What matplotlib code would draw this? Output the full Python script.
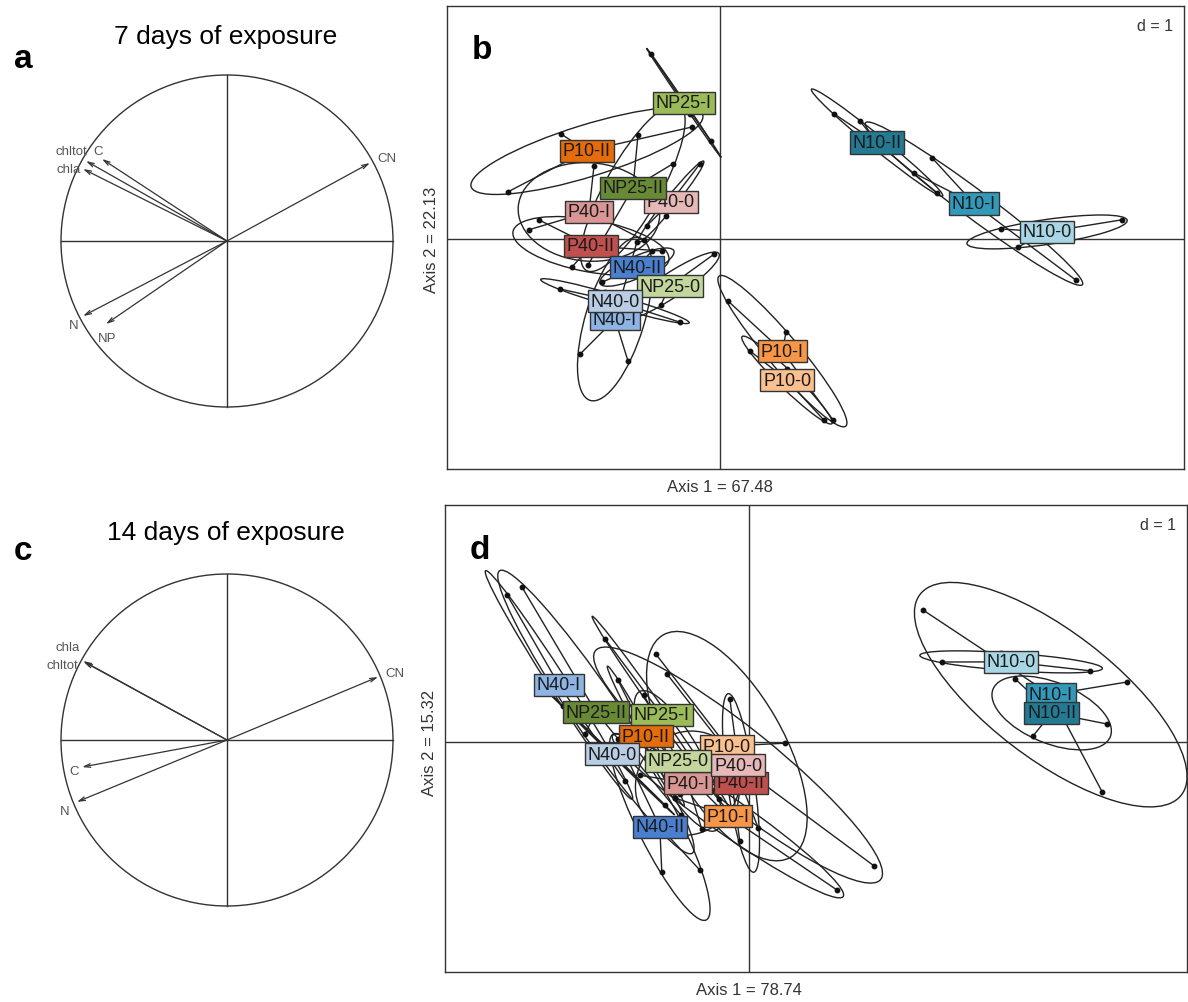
import numpy as np
import matplotlib
matplotlib.use('Agg')
import matplotlib.pyplot as plt
from matplotlib.patches import Ellipse, Circle

##############
## PCA figure: correlation circles (a, c) + class scores (b, d)
##############

# ---- correlation circles ----
vars_a = ['CN', 'C', 'chltot', 'chla', 'N', 'NP']
ax1_a = [0.861, -0.753, -0.849, -0.867, -0.867, -0.729]
ax2_a = [0.470, 0.494, 0.482, 0.434, -0.452, -0.500]

vars_c = ['CN', 'chla', 'chltot', 'C', 'N']
ax1_c = [0.910, -0.867, -0.861, -0.873, -0.904]
ax2_c = [0.380, 0.476, 0.470, -0.163, -0.373]

# ---- group colours ----
group_colors = {
    'N10-0': '#a9d6e5', 'N10-I': '#3399bb', 'N10-II': '#237a92',
    'N40-0': '#b9cde5', 'N40-I': '#8eb4e3', 'N40-II': '#4a7fd0',
    'NP25-0': '#c3d69b', 'NP25-I': '#9bbb59', 'NP25-II': '#688a35',
    'P10-0': '#fac090', 'P10-I': '#f79646', 'P10-II': '#e46c0a',
    'P40-0': '#e6b9b8', 'P40-I': '#d99694', 'P40-II': '#c0504d',
}

# ---- 7 days: replicate scores per group (3 replicates), drawing order ----
groups_b = ['NP25-I', 'P10-II', 'P40-0', 'NP25-II', 'P40-I', 'P40-II', 'N40-I',
            'N40-II', 'NP25-0', 'N40-0', 'P10-0', 'P10-I', 'N10-II', 'N10-I', 'N10-0']
x_b = [[-1.73, -0.75, -0.23], [-5.30, -3.98, -0.70], [-0.50, -1.83, -1.35],
       [-2.05, -1.18, -3.30], [-4.78, -1.90, -3.15], [-3.70, -1.45, -4.53],
       [-3.50, -2.30, -2.08], [-1.70, -2.95, -1.58], [-0.15, -2.13, -1.48],
       [-1.00, -4.00, -2.88], [0.75, 2.60, 1.68], [0.20, 1.65, 2.83],
       [2.85, 3.50, 5.43], [5.30, 4.85, 8.90], [7.03, 10.05, 7.45]]
y_b = [[4.63, 3.13, 2.45], [1.18, 2.63, 2.80], [1.88, 0.33, 0.58],
       [2.60, 1.88, -0.65], [0.23, -0.03, 1.83], [-0.70, -0.30, 0.48],
       [-2.88, -3.05, -0.08], [-0.30, -1.08, -0.73], [-0.38, -1.50, -1.65],
       [-2.08, -1.25, -1.33], [-2.80, -4.53, -3.25], [-1.55, -2.33, -4.53],
       [3.13, 2.95, 1.15], [2.03, 1.65, -1.03], [0.25, 0.48, -0.20]]

# ---- 14 days ----
groups_d = ['N40-I', 'NP25-II', 'NP25-I', 'P10-II', 'N40-0', 'P10-0', 'P40-I', 'P40-II',
            'P40-0', 'NP25-0', 'P10-I', 'N40-II', 'N10-0', 'N10-I', 'N10-II']
x_d = [[-6.05, -5.10, -3.10], [-5.68, -4.10, -1.70], [-3.60, -2.18, -0.75],
       [-3.28, -2.73, -1.73], [-4.65, -3.53, -2.10], [-2.33, 0.90, -0.23],
       [-2.73, -1.18, -0.68], [-0.48, 0.23, -0.35], [-2.05, 3.13, -1.90],
       [-2.63, -1.85, -0.85], [-1.93, 2.20, -1.85], [-3.28, -1.23, -2.18],
       [4.83, 8.53, 6.30], [4.35, 8.83, 9.45], [8.95, 7.10, 6.65]]
y_d = [[3.68, 1.58, -0.98], [3.88, 0.20, -1.83], [2.58, 0.88, -1.43],
       [1.55, 0.20, -1.30], [0.90, -0.23, -1.58], [2.20, -0.03, -2.48],
       [-0.83, -2.18, -0.08], [1.08, -2.15, -2.00], [1.70, -3.10, -0.33],
       [1.18, -1.40, -1.20], [-0.45, -3.70, -1.40], [0.08, -3.20, -3.25],
       [2.00, 1.78, 2.23], [3.30, -1.25, 1.50], [0.45, 0.15, 1.58]]

eig_b = ['67.48', '22.13']
eig_d = ['78.74', '15.32']

# ---------------------------------------------------------------
W, H = 1188, 1003
plt.rcParams['font.family'] = ['Liberation Sans', 'DejaVu Sans']

fig = plt.figure(figsize=(W / 100, H / 100), dpi=100)
LC = '#333333'


def px_axes(x0, y0, x1, y1):
    return fig.add_axes([x0 / W, 1 - y1 / H, (x1 - x0) / W, (y1 - y0) / H])


def corcircle(cx, cy, r, names_, xs, ys, offsets):
    ext = 1.32
    ax = px_axes(cx - ext * r, cy - ext * r, cx + ext * r, cy + ext * r)
    ax.set_xlim(-ext, ext)
    ax.set_ylim(-ext, ext)
    ax.axis('off')
    ax.add_patch(Circle((0, 0), 1, fill=False, ec=LC, lw=1.0))
    ax.plot([-1, 1], [0, 0], color=LC, lw=1.0)
    ax.plot([0, 0], [-1, 1], color=LC, lw=1.0)
    for nm, x, y in zip(names_, xs, ys):
        ax.annotate('', xy=(x, y), xytext=(0, 0),
                    arrowprops=dict(arrowstyle='->,head_length=0.45,head_width=0.13',
                                    color=LC, lw=0.9, shrinkA=0, shrinkB=0))
        dx, dy, ha = offsets[nm]
        ax.annotate(nm, xy=(x, y), xytext=(dx, dy), textcoords='offset pixels',
                    ha=ha, va='center', fontsize=9.5, color='#555555')
    return ax


def class_plot(x0, y0, x1, y1, ox, oy, groups, xs, ys, eig, letter):
    S = 40.0
    ax = px_axes(x0, y0, x1, y1)
    ax.set_xlim((x0 - ox) / S, (x1 - ox) / S)
    ax.set_ylim((oy - y1) / S, (oy - y0) / S)
    ax.set_xticks([])
    ax.set_yticks([])
    for sp in ax.spines.values():
        sp.set_color(LC)
        sp.set_linewidth(1.0)
    ax.axhline(0, color=LC, lw=1.0, zorder=1)
    ax.axvline(0, color=LC, lw=1.0, zorder=1)
    for g, gx, gy in zip(groups, xs, ys):
        gx = np.array(gx)
        gy = np.array(gy)
        mx, my = gx.mean(), gy.mean()
        cov = np.cov(np.vstack([gx, gy]), bias=True)
        vals, vecs = np.linalg.eigh(cov)
        vals = np.clip(vals, 1e-6, None)
        ang = np.degrees(np.arctan2(vecs[1, 1], vecs[0, 1]))
        ax.add_patch(Ellipse((mx, my), 2 * 1.5 * np.sqrt(vals[1]), 2 * 1.5 * np.sqrt(vals[0]),
                             angle=ang, fill=False, ec='#222222', lw=1.0, zorder=2))
        for px, py in zip(gx, gy):
            ax.plot([mx, px], [my, py], color='#222222', lw=1.0, zorder=2)
        ax.plot(gx, gy, 'o', color='#111111', ms=3.2, zorder=3)
    for i, (g, gx, gy) in enumerate(zip(groups, xs, ys)):
        ax.text(np.mean(gx), np.mean(gy), g, ha='center', va='center', fontsize=13,
                color='#1a1a1a', zorder=10 + i,
                bbox=dict(boxstyle='square,pad=0.15', fc=group_colors[g], ec=LC, lw=1.0))
    ax.text(0.985, 0.975, 'd = 1', transform=ax.transAxes, ha='right', va='top',
            fontsize=11.5, color='#333333')
    ax.text(0.033, 0.905, letter, transform=ax.transAxes, ha='left', va='center',
            fontsize=24, fontweight='bold')
    fig.text(ox / W, 1 - (y1 + 18) / H, 'Axis 1 = ' + eig[0], ha='center', va='center',
             fontsize=12, color='#333333')
    fig.text((x0 - 16) / W, 1 - oy / H, 'Axis 2 = ' + eig[1], ha='center', va='center',
             rotation=90, fontsize=12, color='#333333')
    return ax


off_a = {'CN': (7, 5, 'left'), 'C': (-4, 8, 'center'), 'chltot': (1, 10, 'right'),
         'chla': (-2, 0, 'right'), 'N': (-9, -9, 'center'), 'NP': (1, -14, 'center')}
off_c = {'CN': (7, 4, 'left'), 'chla': (-3, 14, 'right'), 'chltot': (-6, -3, 'right'),
         'C': (-8, -4, 'center'), 'N': (-12, -9, 'center')}

corcircle(227, 242, 166, vars_a, ax1_a, ax2_a, off_a)
corcircle(227, 741, 166, vars_c, ax1_c, ax2_c, off_c)

fig.text(226 / W, 1 - 37 / H, '7 days of exposure', ha='center', va='center', fontsize=19)
fig.text(226 / W, 1 - 533 / H, '14 days of exposure', ha='center', va='center', fontsize=19)
fig.text(14 / W, 1 - 60 / H, 'a', ha='left', va='center', fontsize=24, fontweight='bold')
fig.text(14 / W, 1 - 552 / H, 'c', ha='left', va='center', fontsize=24, fontweight='bold')

class_plot(447, 7, 1184, 470, 720, 240, groups_b, x_b, y_b, eig_b, 'b')
class_plot(445, 506, 1187, 973, 749, 743, groups_d, x_d, y_d, eig_d, 'd')

fig.savefig('out.png', dpi=100)
